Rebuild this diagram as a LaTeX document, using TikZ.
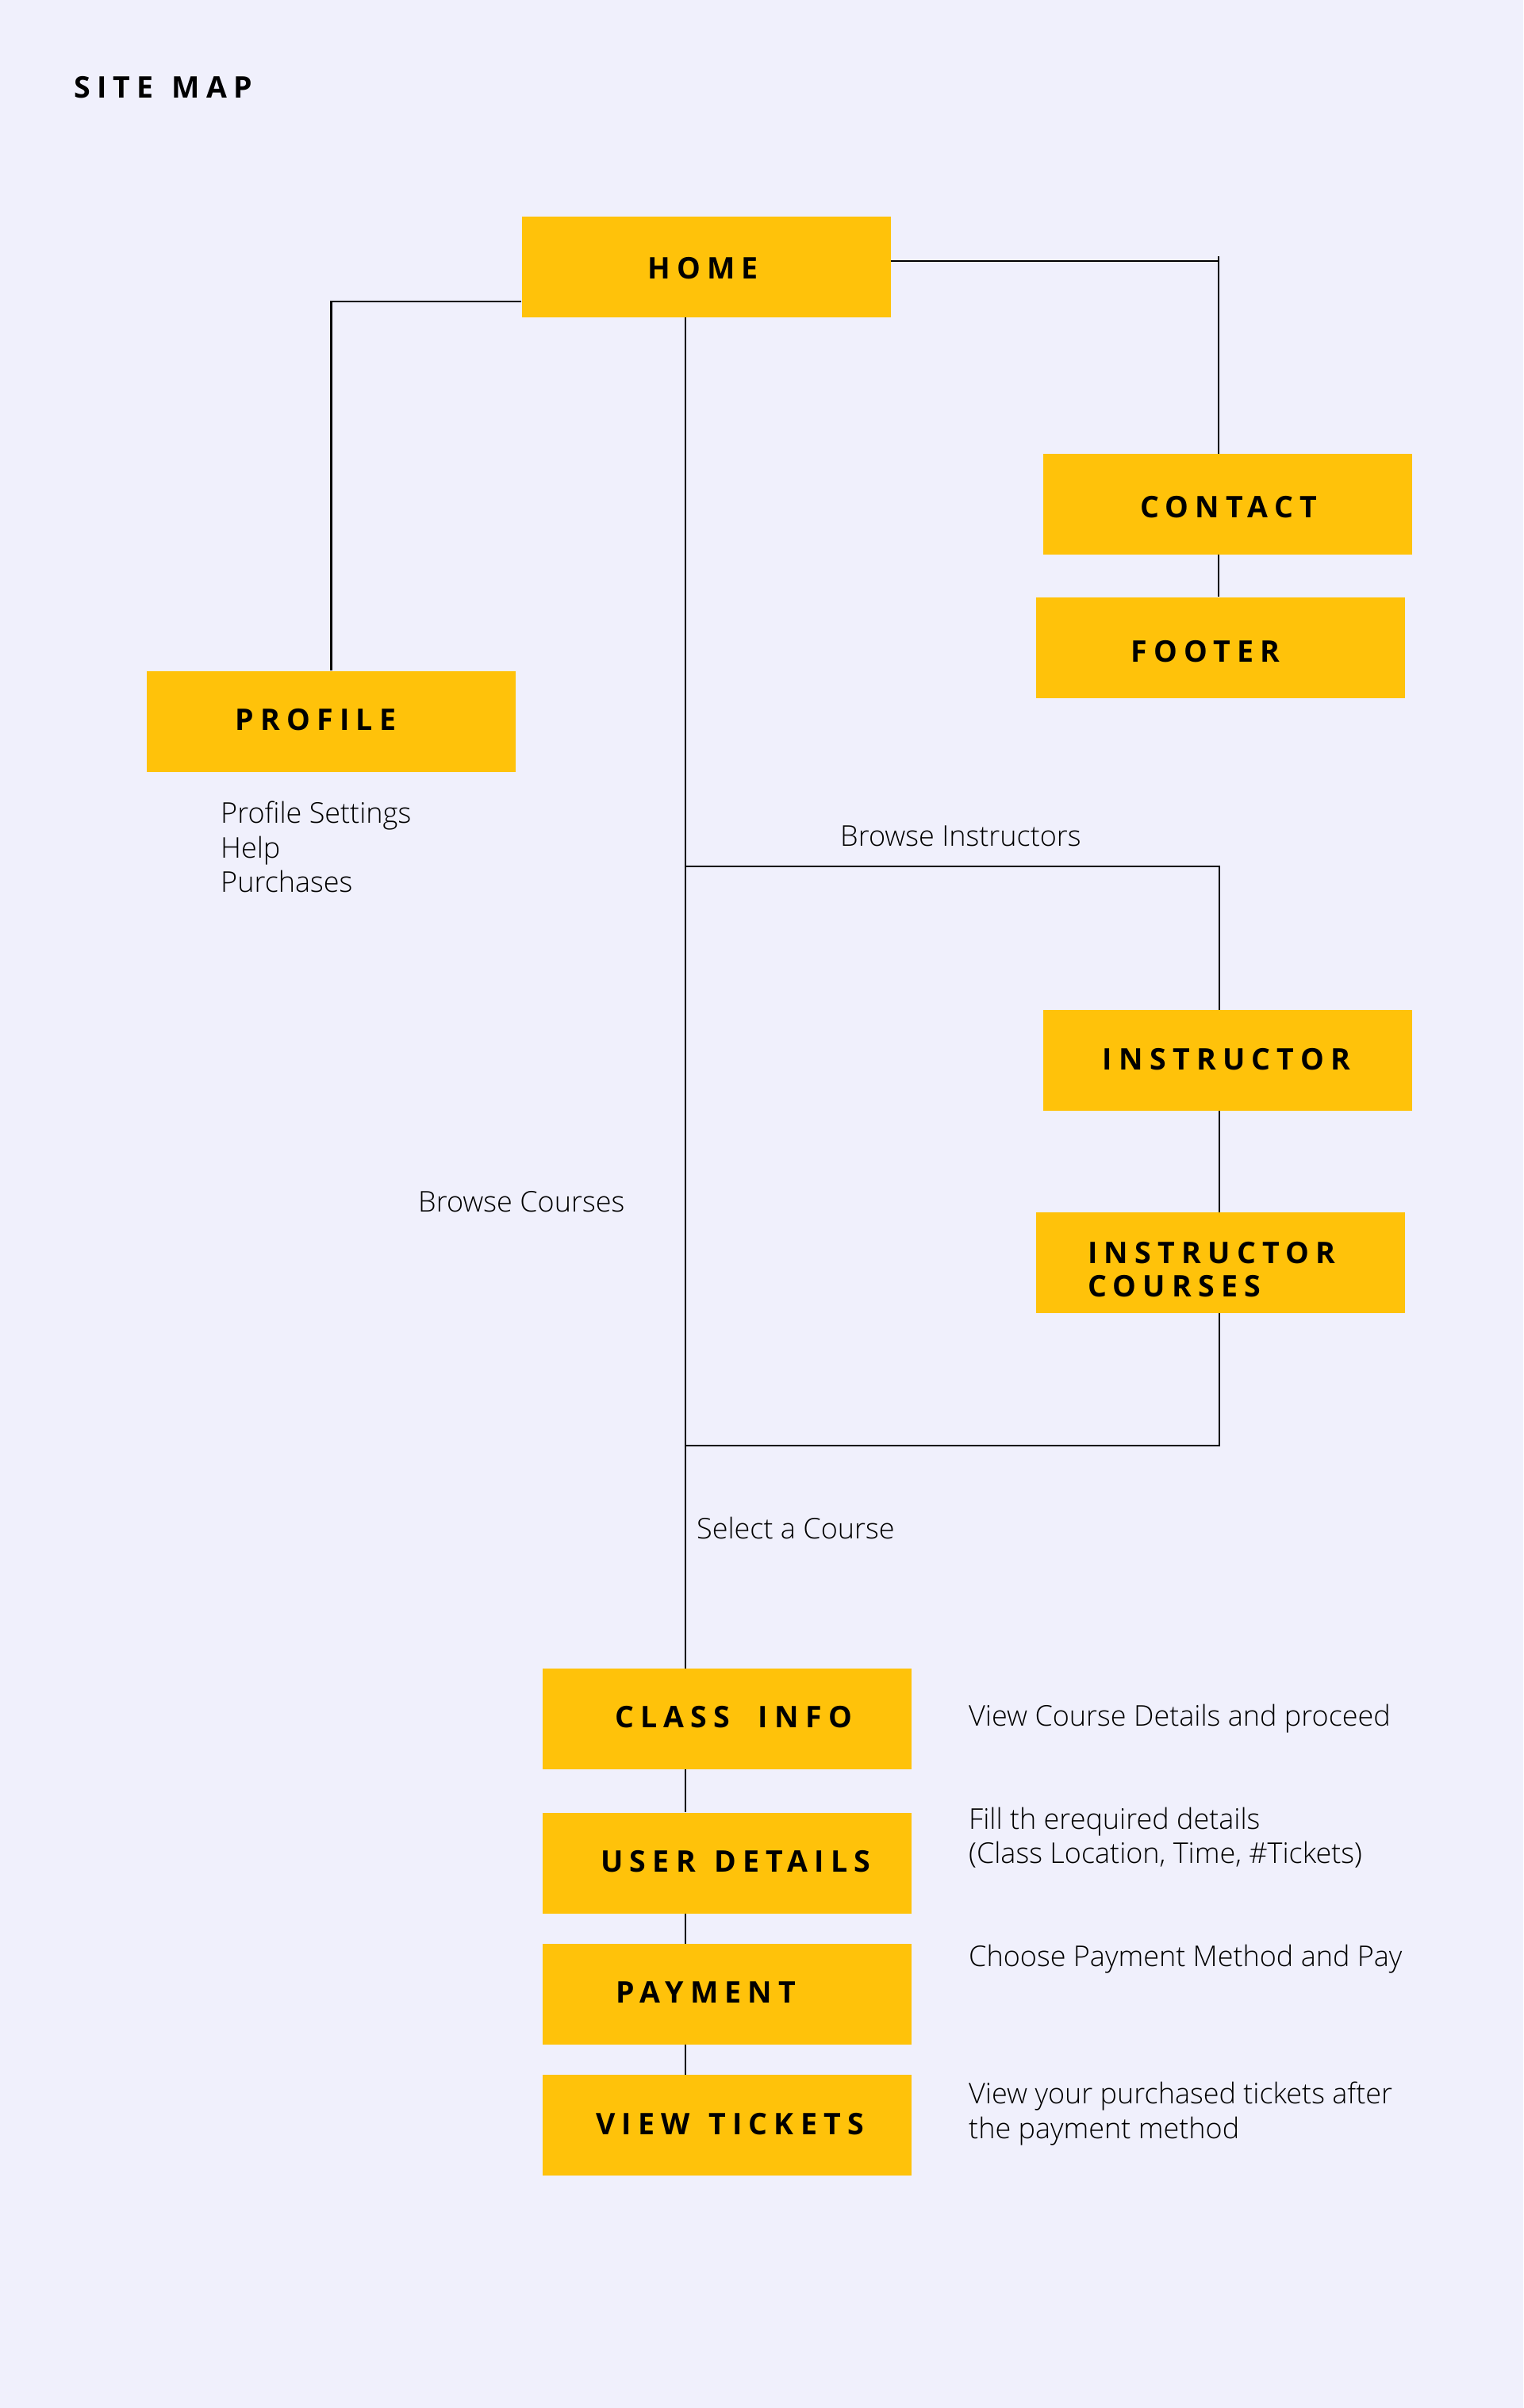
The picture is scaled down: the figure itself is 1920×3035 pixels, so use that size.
\documentclass[tikz,border=0pt]{standalone}
\usepackage{fontspec}
\setmainfont{Open Sans}
\IfFontExistsTF{Open Sans Light}{\newfontfamily\lightfont{Open Sans Light}}{\newfontfamily\lightfont{Open Sans}}
\newfontfamily\titlefont[LetterSpace=22]{Open Sans}
\newcommand{\wsp}{\hspace{0.62em}}
\definecolor{bg}{HTML}{F0F0FC}
\definecolor{ybox}{HTML}{FFC20A}
\begin{document}
\begin{tikzpicture}[x=1pt,y=-1pt,
  box/.style={rectangle, fill=ybox, minimum width=465pt, minimum height=127pt, inner sep=0pt},
  title/.style={font=\titlefont\bfseries\fontsize{37.5pt}{42pt}\selectfont, inner sep=0pt, text=black},
  lbl/.style={font=\lightfont\fontsize{36pt}{43.5pt}\selectfont, inner sep=0pt, anchor=base west, text=black},
  conn/.style={draw=black, line width=2.5pt}]
\fill[bg] (0,0) rectangle (1920,3035);
\useasboundingbox (0,0) rectangle (1920,3035);

% title
\node[title, anchor=west] (sitemap) at (93,110.5) {SITE\wsp MAP};

% boxes
\node[box] (home) at (890,336) {};
\node[box] (contact) at (1547,635.5) {};
\node[box] (footer) at (1538.5,816) {};
\node[box] (profile) at (417.5,909) {};
\node[box] (instructor) at (1547,1336.5) {};
\node[box] (icourses) at (1538,1591.5) {};
\node[box] (classinfo) at (916,2166.5) {};
\node[box] (userdetails) at (916,2348) {};
\node[box] (payment) at (916,2513.5) {};
\node[box] (viewtickets) at (916,2678.5) {};

% box titles
\node[title] (homet) at (886,338) {HOME};
\node[title] (contactt) at (1548.5,639) {CONTACT};
\node[title] (footert) at (1519.5,821) {FOOTER};
\node[title] (profilet) at (398,907) {PROFILE};
\node[title] (instructort) at (1546,1335) {INSTRUCTOR};
\node[title, anchor=west, align=left] (icoursest) at (1371,1600.5) {INSTRUCTOR\\COURSES};
\node[title] (classinfot) at (924.5,2164.5) {CLASS\hspace{0.95em}INFO};
\node[title] (userdetailst) at (927.5,2346.5) {USER\wsp DETAILS};
\node[title] (paymentt) at (890,2511) {PAYMENT};
\node[title] (viewticketst) at (920,2676.6) {VIEW\wsp TICKETS};

% labels
\node[lbl] (pset) at (278,1037.7) {Profile Settings};
\node[lbl] (phelp) at (278,1081.5) {Help};
\node[lbl] (ppurch) at (278,1124.5) {Purchases};
\node[lbl] (binst) at (1059,1066) {Browse Instructors};
\node[lbl] (bcourses) at (527,1527.3) {Browse Courses};
\node[lbl] (selc) at (878,1939) {Select a Course};
\node[lbl] (d1) at (1221,2175.5) {View Course Details and proceed};
\node[lbl] (d2a) at (1221,2305) {Fill th erequired details};
\node[lbl] (d2b) at (1221,2348.5) {(Class Location, Time, \#Tickets)};
\node[lbl] (d3) at (1221,2478.6) {Choose Payment Method and Pay};
\node[lbl] (d4a) at (1221,2651.7) {View your purchased tickets after};
\node[lbl] (d4b) at (1221,2695) {the payment method};

% connectors
\coordinate (cj) at (1536,323);
\coordinate (tk) at (864,0);
\coordinate (ib) at (1537,1092);
\coordinate (cb) at (1537,1822);
\draw[conn] ([yshift=-44pt]home.west) -| (profile.north);
\draw[conn] ([yshift=7pt]home.east) -| (cj) -- (cj |- contact.north);
\draw[conn] (cj |- contact.south) -- (cj |- footer.north);
\draw[conn] (tk |- home.south) -- (tk |- classinfo.north);
\draw[conn] (tk |- ib) -- (ib) -- (ib |- instructor.north);
\draw[conn] (ib |- instructor.south) -- (ib |- icourses.north);
\draw[conn] (ib |- icourses.south) -- (cb) -- (tk |- cb);
\draw[conn] (tk |- classinfo.south) -- (tk |- userdetails.north);
\draw[conn] (tk |- userdetails.south) -- (tk |- payment.north);
\draw[conn] (tk |- payment.south) -- (tk |- viewtickets.north);
\end{tikzpicture}
\end{document}
